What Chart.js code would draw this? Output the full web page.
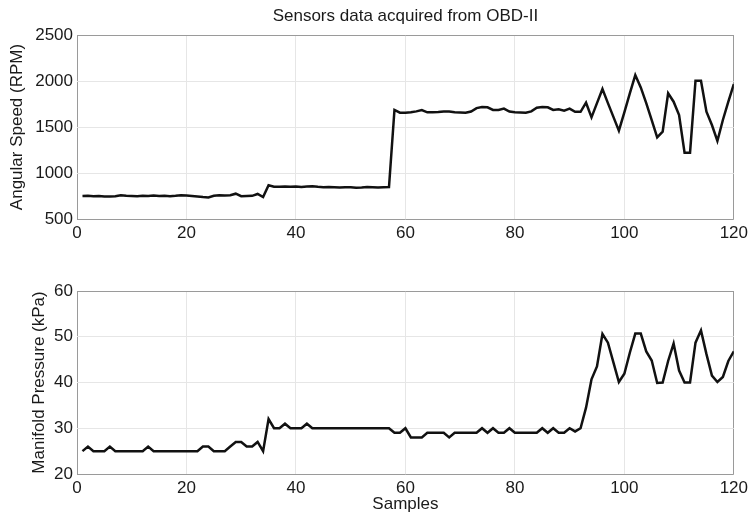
<!DOCTYPE html>
<html>
<head>
<meta charset="utf-8">
<script src="https://cdn.jsdelivr.net/npm/chart.js@4.4.1/dist/chart.umd.min.js"></script>
<style>
  html, body { margin: 0; padding: 0; background: #fff; }
  #wrap { position: relative; width: 752px; height: 517px; overflow: hidden; }
  canvas { position: absolute; left: 0; }
  #rpmChart { top: 0; }
  #mapChart { top: 250px; }
</style>
</head>
<body>
<div id="wrap">
  <canvas id="rpmChart" width="752" height="250"></canvas>
  <canvas id="mapChart" width="752" height="267"></canvas>
</div>
<script>
// Sample index (x axis)
const samples = Array.from({ length: 120 }, (_, i) => i + 1);

// Engine speed read from the OBD-II logger (RPM)
const rpmValues = [
  750, 752, 748, 750, 745, 745, 748, 758, 752, 750,
  748, 752, 750, 755, 750, 752, 748, 752, 758, 755,
  750, 745, 738, 735, 752, 758, 755, 758, 775, 748,
  750, 752, 772, 738, 866, 850, 850, 852, 850, 852,
  848, 852, 856, 850, 846, 848, 845, 843, 846, 844,
  840, 843, 848, 845, 843, 846, 847, 1685, 1655, 1655,
  1660, 1670, 1685, 1660, 1660, 1662, 1668, 1668, 1660, 1658,
  1655, 1668, 1705, 1717, 1714, 1685, 1685, 1700, 1668, 1660,
  1658, 1655, 1670, 1710, 1717, 1714, 1685, 1692, 1678, 1700,
  1665, 1665, 1764, 1605, 1760, 1913, 1760, 1610, 1460, 1660,
  1865, 2065, 1930, 1760, 1575, 1388, 1449, 1866, 1775, 1630,
  1221, 1221, 2003, 2003, 1667, 1522, 1348, 1576, 1775, 1967
];

// Manifold absolute pressure (kPa)
const mapValues = [
  25, 26, 25, 25, 25, 26, 25, 25, 25, 25,
  25, 25, 26, 25, 25, 25, 25, 25, 25, 25,
  25, 25, 26, 26, 25, 25, 25, 26, 27, 27,
  26, 26, 27, 25, 32, 30, 30, 31, 30, 30,
  30, 31, 30, 30, 30, 30, 30, 30, 30, 30,
  30, 30, 30, 30, 30, 30, 30, 29, 29, 30,
  28, 28, 28, 29, 29, 29, 29, 28, 29, 29,
  29, 29, 29, 30, 29, 30, 29, 29, 30, 29,
  29, 29, 29, 29, 30, 29, 30, 29, 29, 30,
  29.3, 30, 34.5, 40.7, 43.5, 50.6, 48.7, 44.4, 40.1, 41.9,
  46.5, 50.7, 50.7, 46.8, 44.8, 39.9, 40, 44.7, 48.5, 42.6,
  40, 40, 48.7, 51.4, 46.2, 41.5, 40.1, 41.2, 44.7, 46.8
];

const xTicks = { min: 0, max: 120, step: 20 };
const rpmTicks = { min: 500, max: 2500, step: 500 };
const mapTicks = { min: 20, max: 60, step: 10 };

const FONT = "'Liberation Sans', Arial, sans-serif";
const TEXT = '#1a1a1a';
const GRID = '#e6e6e6';
const BOX = '#9a9a9a';

// edge grid lines double as the axes box
function gridColor(min, max) {
  return ctx => {
    const v = ctx.tick ? ctx.tick.value : null;
    return (v === min || v === max) ? BOX : GRID;
  };
}

function toPoints(values) {
  return samples.map((s, i) => ({ x: s, y: values[i] }));
}

function makeChart(id, values, yTicks, yTitle, opts) {
  const ctx = document.getElementById(id).getContext('2d');
  return new Chart(ctx, {
    type: 'line',
    data: {
      datasets: [{
        data: toPoints(values),
        borderColor: '#111',
        borderWidth: 2.5,
        pointRadius: 0,
        tension: 0,
        fill: false
      }]
    },
    options: {
      responsive: false,
      animation: false,
      devicePixelRatio: 1,
      layout: { padding: { left: 0, right: 15, top: opts.padTop, bottom: 0 } },
      plugins: {
        legend: { display: false },
        tooltip: { enabled: false },
        title: {
          display: !!opts.title,
          text: opts.title || '',
          fullSize: false,
          color: TEXT,
          font: { family: FONT, size: 17, weight: 'normal' },
          padding: { top: 6.5, bottom: 8.1 }
        }
      },
      scales: {
        x: {
          type: 'linear',
          min: xTicks.min,
          max: xTicks.max,
          afterFit: scale => { scale.height = opts.xHeight; },
          border: { display: false },
          grid: { color: gridColor(xTicks.min, xTicks.max), drawTicks: false, lineWidth: 1 },
          ticks: {
            stepSize: xTicks.step,
            padding: 4,
            color: TEXT,
            font: { family: FONT, size: 17 },
            maxRotation: 0,
            callback: value => String(value)
          },
          title: {
            display: !!opts.xTitle,
            text: opts.xTitle || '',
            color: TEXT,
            font: { family: FONT, size: 17 },
            padding: { top: 0, bottom: 2 }
          }
        },
        y: {
          min: yTicks.min,
          max: yTicks.max,
          afterFit: scale => { scale.width = 77; },
          border: { display: false },
          grid: { color: gridColor(yTicks.min, yTicks.max), drawTicks: false, lineWidth: 1 },
          ticks: {
            stepSize: yTicks.step,
            padding: 4,
            color: TEXT,
            font: { family: FONT, size: 17 },
            callback: value => String(value)
          },
          title: {
            display: true,
            text: yTitle,
            color: TEXT,
            font: { family: FONT, size: 17 },
            padding: { top: opts.yTitlePad, bottom: 0 }
          }
        }
      }
    }
  });
}

makeChart('rpmChart', rpmValues, rpmTicks, 'Angular Speed (RPM)', {
  title: 'Sensors data acquired from OBD-II',
  padTop: 0,
  xHeight: 31,
  yTitlePad: 7
});

makeChart('mapChart', mapValues, mapTicks, 'Manifold Pressure (kPa)', {
  xTitle: 'Samples',
  padTop: 41,
  xHeight: 43,
  yTitlePad: 29
});
</script>
</body>
</html>
